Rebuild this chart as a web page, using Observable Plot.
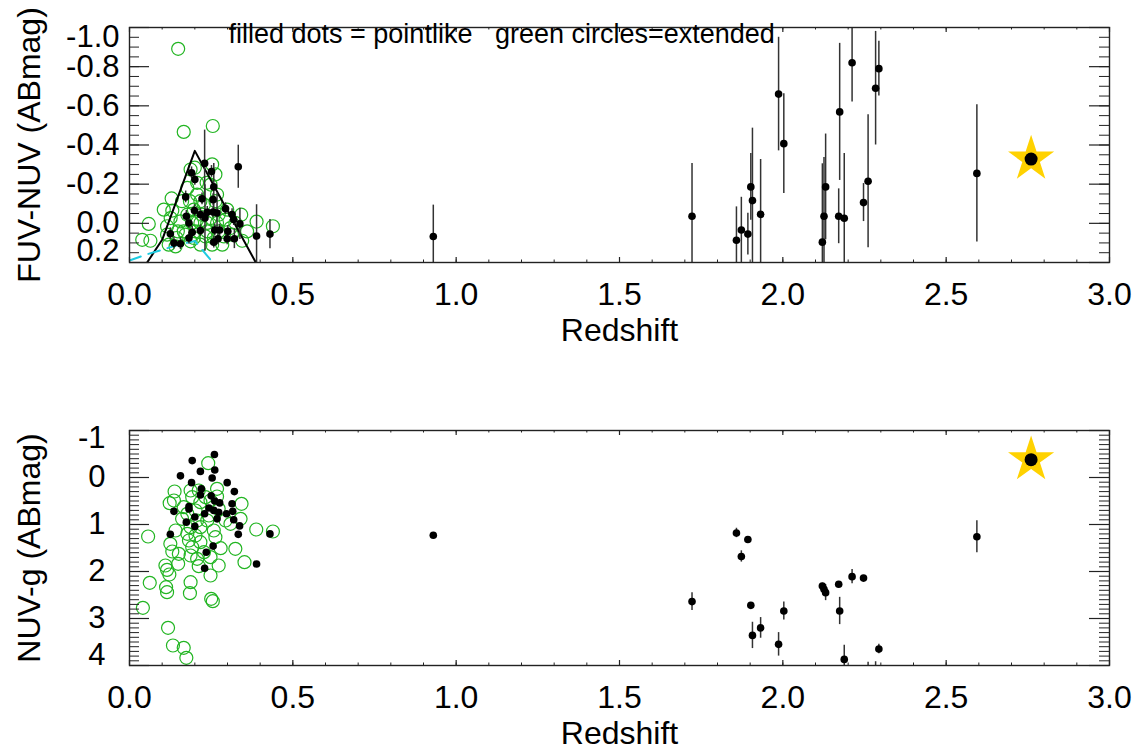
<!DOCTYPE html>
<html><head><meta charset="utf-8">
<script src="https://cdn.jsdelivr.net/npm/d3@7"></script>
<script src="https://cdn.jsdelivr.net/npm/@observablehq/plot@0.6"></script>
<style>
body{margin:0;background:#fff;}
#chart svg{display:block;}
</style></head><body><div id="chart"></div>
<script>
// ---------- DATA ----------
// tick values
const xMajor = [0.0, 0.5, 1.0, 1.5, 2.0, 2.5, 3.0];
const yTopMajor = [-1.0, -0.8, -0.6, -0.4, -0.2, 0.0, 0.2];
const yBotMajor = [-1, 0, 1, 2, 3, 4];

// model tracks (top panel)
const modelZ = [0.05, 0.10, 0.20, 0.39];
const modelFuvNuv = [0.21, 0.084, -0.37, 0.21];
const cyanZ = [0.0, 0.05, 0.15, 0.20, 0.27];
const cyanFuvNuv = [0.19, 0.16, 0.11, 0.09, 0.23];

// pointlike, high redshift (both panels)
const hiZ =        [0.930, 1.722, 1.858, 1.873, 1.893, 1.902, 1.907, 1.932, 1.987, 2.003, 2.121, 2.126, 2.131, 2.171, 2.174, 2.188, 2.212, 2.247, 2.261, 2.284, 2.294, 2.594];
const hiFuvNuv =   [0.067,-0.036, 0.086, 0.034, 0.055,-0.186,-0.116,-0.046,-0.660,-0.407, 0.096,-0.036,-0.186,-0.036,-0.569,-0.026,-0.820,-0.106,-0.215,-0.690,-0.790,-0.255];
const hiFuvNuvErr= [0.16, 0.27, 0.17, 0.167, 0.107, 0.17, 0.37, 0.28, 0.29, 0.255, 0.40, 0.30, 0.27, 0.14, 0.35, 0.33, 0.20, 0.097, 0.34, 0.29, 0.14, 0.35];
const hiNuvG =     [1.23, 2.64, 1.18, 1.68, 1.32, 2.72, 3.36, 3.20, 3.55, 2.84, 2.31, 2.38, 2.45, 2.27, 2.84, 3.87, 2.11, 2.14, 4.35, 4.30, 3.65, 1.26];
const hiNuvGErr =  [0.06, 0.19, 0.10, 0.12, 0.05, 0.06, 0.28, 0.22, 0.25, 0.19, 0.06, 0.08, 0.17, 0.05, 0.29, 0.30, 0.15, 0.05, 0.42, 0.38, 0.10, 0.34];

// pointlike, low redshift, top panel (FUV-NUV)
const loTopZ = [0.230,0.333,0.190,0.251,0.200,0.258,0.172,0.222,0.256,0.294,0.199,0.217,0.238,0.256,0.268,0.174,0.231,0.314,0.319,0.338,0.182,0.217,0.192,0.261,0.276,0.301,0.125,0.182,0.136,0.156,0.258,0.271,0.299,0.321,0.389,0.430];
const loTopV = [-0.306,-0.289,-0.258,-0.265,-0.224,-0.186,-0.135,-0.125,-0.121,-0.075,-0.065,-0.045,-0.056,-0.058,-0.053,-0.036,-0.027,-0.045,-0.019,0.003,-0.002,0.037,0.046,0.034,0.034,0.041,0.053,0.075,0.101,0.104,0.096,0.079,0.079,0.079,0.065,0.055];
const loTopErr = [0.17,0.11,0.03,0.03,0.03,0.12,0.03,0.03,0.03,0.03,0.03,0.03,0.03,0.03,0.10,0.03,0.17,0.03,0.03,0.08,0.03,0.03,0.03,0.03,0.03,0.03,0.03,0.03,0.03,0.03,0.03,0.03,0.03,0.05,0.16,0.075];

// extended (green circles), top panel
const extTopZ = [0.149,0.166,0.255,0.187,0.200,0.253,0.263,0.207,0.236,0.248,0.129,0.161,0.105,0.131,0.059,0.039,0.064,0.115,0.115,0.120,0.141,0.166,0.156,0.185,0.207,0.228,0.263,0.273,0.294,0.299,0.342,0.389,0.439,0.345,0.360,0.314,0.284,0.253,0.217,0.187,0.202,0.217,0.238,0.258,0.177,0.197,0.222,0.248,0.207,0.233,0.273,0.324,0.171,0.144,0.126,0.177,0.217,0.268,0.197,0.238,0.268,0.192,0.289,0.309,0.148];
const extTopV = [-0.891,-0.467,-0.497,-0.275,-0.284,-0.301,-0.250,-0.207,-0.207,-0.198,-0.127,-0.113,-0.070,-0.065,0.003,0.084,0.089,0.015,0.058,0.109,0.118,0.041,-0.010,-0.113,-0.147,-0.096,-0.113,-0.044,-0.019,-0.070,-0.044,-0.009,0.015,0.089,0.041,0.058,0.109,0.109,0.109,0.092,0.041,-0.002,0.041,0.075,-0.044,-0.070,-0.044,-0.027,-0.019,0.067,0.041,-0.002,0.058,0.075,-0.027,-0.181,-0.113,-0.147,0.075,-0.002,-0.002,-0.002,0.067,0.024,0.041];

// pointlike, low redshift, bottom panel (NUV-g)
const loBotZ = [0.260,0.192,0.261,0.217,0.156,0.253,0.190,0.299,0.220,0.321,0.217,0.250,0.261,0.276,0.314,0.182,0.182,0.243,0.258,0.136,0.273,0.316,0.297,0.230,0.200,0.268,0.319,0.174,0.200,0.337,0.125,0.333,0.430,0.256,0.235,0.389,0.230];
const loBotV = [-0.49,-0.36,-0.16,-0.13,-0.035,0.01,0.11,0.11,0.24,0.30,0.37,0.39,0.50,0.54,0.56,0.62,0.67,0.65,0.70,0.72,0.74,0.72,0.77,0.77,0.84,0.88,0.90,0.95,1.04,1.03,1.21,1.21,1.20,1.46,1.59,1.84,1.93];

// extended (green circles), bottom panel
const extBotZ = [0.241,0.138,0.123,0.057,0.125,0.131,0.149,0.110,0.115,0.122,0.062,0.112,0.115,0.187,0.185,0.250,0.255,0.041,0.118,0.133,0.166,0.174,0.388,0.439,0.343,0.340,0.324,0.352,0.279,0.273,0.248,0.212,0.207,0.151,0.187,0.212,0.268,0.268,0.217,0.248,0.294,0.309,0.187,0.202,0.182,0.217,0.192,0.228,0.177,0.161,0.238,0.217,0.258,0.202,0.192,0.233,0.141,0.177,0.263,0.207,0.187,0.248,0.166,0.136,0.273,0.243];
const extBotV = [-0.305,0.298,0.546,1.255,1.411,1.574,1.837,1.872,1.965,2.064,2.241,2.333,2.440,2.227,2.461,2.582,2.631,2.773,3.199,3.574,3.624,3.837,1.106,1.149,0.560,0.879,1.518,1.801,1.504,1.872,2.085,1.887,1.730,1.624,0.277,0.277,0.241,0.404,0.525,0.489,0.915,0.986,1.057,1.234,1.340,1.376,1.482,1.589,0.773,0.879,0.915,1.057,1.128,0.702,0.418,0.418,1.128,1.199,1.270,0.915,1.660,1.695,0.631,0.489,0.667,0.809];

// the highlighted source (star)
const starZ = [2.76];
const starFuvNuv = [-0.328];
const starNuvG = [-0.38];

const legendText = "filled dots = pointlike\u00a0\u00a0 green circles=extended";
const xLabel = "Redshift";
const yTopLabel = "FUV-NUV (ABmag)";
const yBotLabel = "NUV-g (ABmag)";

// ---------- DRAWING ----------
const W = 1141, ML = 129, MR = 32;
const FONT = "'Liberation Sans', Arial, Helvetica, sans-serif";
const AX = "#222";
const GREEN = "#22b522";
const fmt1 = d => d.toFixed(1);
const fmt0 = d => String(d);
const xMinor = d3.range(0, 30.5).map(i => i / 10);

function rows(zs, vs, es) {
  return zs.map((z, i) => ({z, v: vs[i], e: es ? es[i] : 0}));
}

function panel(o) {
  const innerH = o.height - o.marginTop - o.marginBottom;
  const innerW = W - ML - MR;
  const yMaj = o.yMajor;
  const marks = [
    Plot.dot(o.ext, {x: "z", y: "v", r: 6.5, stroke: GREEN, strokeWidth: 1.2, fill: "none", clip: true}),
    ...(o.extra || []),
    Plot.ruleX(o.pts, {x: "z", y1: d => d.v - d.e, y2: d => d.v + d.e, stroke: "#333", strokeWidth: 1.5, clip: true}),
    Plot.dot(o.pts, {x: "z", y: "v", r: 3.8, fill: "black", clip: true}),
    Plot.dot(o.star, {x: "z", y: "v", symbol: "star", r: 14.5, fill: "#ffd200"}),
    Plot.dot(o.star, {x: "z", y: "v", r: 6.5, fill: "black"}),
    Plot.frame({stroke: AX, strokeWidth: 1.4}),
    Plot.ruleX(xMajor, {x: d => d, insetTop: innerH - 5, stroke: AX, strokeWidth: 1.2}),
    Plot.ruleX(xMajor, {x: d => d, insetBottom: innerH - 5, stroke: AX, strokeWidth: 1.2}),
    Plot.ruleX(xMinor, {x: d => d, insetTop: innerH - 2.5, stroke: AX, strokeWidth: 1}),
    Plot.ruleX(xMinor, {x: d => d, insetBottom: innerH - 2.5, stroke: AX, strokeWidth: 1}),
    Plot.ruleY(yMaj, {y: d => d, insetRight: innerW - 20, stroke: AX, strokeWidth: 1.2}),
    Plot.ruleY(yMaj, {y: d => d, insetLeft: innerW - 20, stroke: AX, strokeWidth: 1.2}),
    Plot.ruleY(o.yMinor, {y: d => d, insetRight: innerW - 10, stroke: AX, strokeWidth: 1}),
    Plot.ruleY(o.yMinor, {y: d => d, insetLeft: innerW - 10, stroke: AX, strokeWidth: 1}),
    Plot.axisX(xMajor, {tickSize: 0, tickPadding: 20, tickFormat: fmt1, fontSize: 32, label: null}),
    Plot.axisY(yMaj.slice(1, -1), {tickSize: 0, tickPadding: o.yPad, tickFormat: o.yFmt, fontSize: 31, label: null}),
    Plot.axisY([yMaj[0]], {tickSize: 0, tickPadding: o.yPad, tickFormat: o.yFmt, fontSize: 31, label: null, dy: o.shiftTop}),
    Plot.axisY([yMaj[yMaj.length - 1]], {tickSize: 0, tickPadding: o.yPad, tickFormat: o.yFmt, fontSize: 31, label: null, dy: o.shiftBot}),
    Plot.text([xLabel], {text: d => d, frameAnchor: "bottom", dy: 68, textAnchor: "middle", lineAnchor: "middle", fontSize: 32}),
    Plot.text([o.yLabel], {text: d => d, frameAnchor: "left", dx: -100, rotate: -90, textAnchor: "middle", lineAnchor: "middle", fontSize: 32}),
    ...(o.legend || [])
  ];
  return Plot.plot({
    width: W, height: o.height,
    marginLeft: ML, marginRight: MR, marginTop: o.marginTop, marginBottom: o.marginBottom,
    style: {fontFamily: FONT, background: "#fff", color: "#000", overflow: "visible"},
    x: {domain: [0, 3]},
    y: {domain: o.yDomain},
    marks
  });
}

const topPanel = panel({
  height: 345, marginTop: 27, marginBottom: 83,
  yDomain: [0.2, -1.0], yMajor: yTopMajor, yMinor: d3.range(-20, 4.5).map(i => i * 0.05),
  yFmt: fmt1, yPad: 10, shiftTop: 10, shiftBot: -11, yLabel: yTopLabel,
  ext: rows(extTopZ, extTopV),
  pts: rows(loTopZ, loTopV, loTopErr).concat(rows(hiZ, hiFuvNuv, hiFuvNuvErr)),
  star: rows(starZ, starFuvNuv),
  extra: [
    Plot.line(rows(modelZ, modelFuvNuv), {x: "z", y: "v", stroke: "black", strokeWidth: 2, clip: true}),
    Plot.line(rows(cyanZ, cyanFuvNuv), {x: "z", y: "v", stroke: "#1ecbe1", strokeWidth: 2, strokeDasharray: "12,8", clip: true})
  ],
  legend: [
    Plot.text([legendText], {text: d => d, frameAnchor: "top-left", dx: 99, dy: 7, textAnchor: "start", lineAnchor: "middle", fontSize: 27})
  ]
});

const botPanel = panel({
  height: 407, marginTop: 85, marginBottom: 87,
  yDomain: [4, -1], yMajor: yBotMajor, yMinor: d3.range(-10, 40.5).map(i => i / 10),
  yFmt: fmt0, yPad: 24, shiftTop: 8, shiftBot: -10, yLabel: yBotLabel,
  ext: rows(extBotZ, extBotV),
  pts: rows(loBotZ, loBotV, loBotZ.map(() => 0.04)).concat(rows(hiZ, hiNuvG, hiNuvGErr)),
  star: rows(starZ, starNuvG)
});

document.getElementById("chart").append(topPanel, botPanel);
</script>
</body></html>
